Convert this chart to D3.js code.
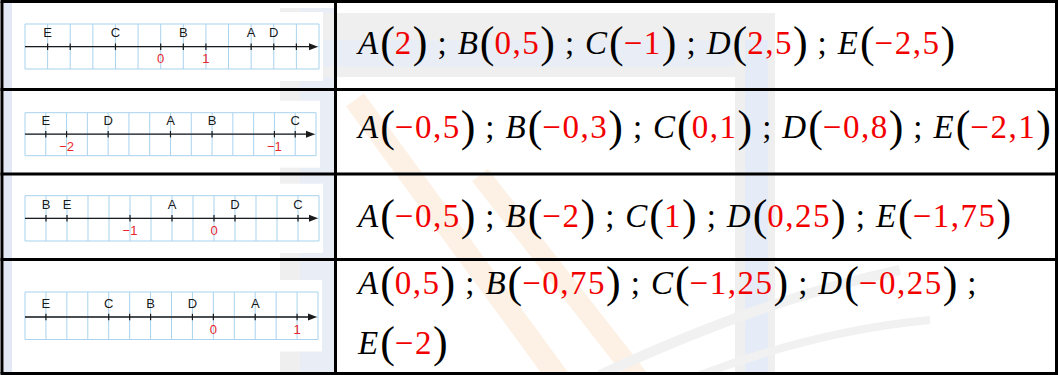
<!DOCTYPE html>
<html>
<head>
<meta charset="utf-8">
<script src="https://cdn.jsdelivr.net/npm/d3@7"></script>
<style>
  body { margin: 0; background: #fff; }
  svg { display: block; }
</style>
</head>
<body>
<script>
// size of the picture
var svgWidth = 1059;
var svgHeight = 375;

// names of the points, in the order of the answers
var pointNames = ["A", "B", "C", "D", "E"];

// where each point sits on the drawn number line (one list per row)
var drawnPoints = [
    [2, 0.5, -1, 2.5, -2.5],
    [-1.5, -1.3, -0.9, -1.8, -2.1],
    [-0.5, -2, 1, 0.25, -1.75],
    [0.5, -0.75, -1.25, -0.25, -2]
];

// red numbers written under each line
var markedNumbers = [[0, 1], [-2, -1], [-1, 0], [0, 1]];

// other graduations with no label
var extraTicks = [[-2, 3], [], [], [-1]];

// value at the left and right edge of each grid card
var lineDomains = [[-3, 3.5], [-2.2, -0.8], [-2.25, 1.25], [-2.25, 1.25]];
var gridCells = [13, 14, 14, 14];

// answers written in the right column
var answers = [
    ["2", "0,5", "\u22121", "2,5", "\u22122,5"],
    ["\u22120,5", "\u22120,3", "0,1", "\u22120,8", "\u22122,1"],
    ["\u22120,5", "\u22122", "1", "0,25", "\u22121,75"],
    ["0,5", "\u22120,75", "\u22121,25", "\u22120,25", "\u22122"]
];

// layout of the table
var rowLines = [1.5, 89.5, 174, 259.5, 373.5];
var colLines = [2, 335.5, 1056.5];

// cards: left, right, top, bottom, axis height
var cards = [
    { x0: 25, x1: 319, y0: 24, y1: 69, axis: 46.7 },
    { x0: 25, x1: 316, y0: 112.7, y1: 155.7, axis: 134.2 },
    { x0: 25, x1: 319, y0: 195.7, y1: 241, axis: 218.3 },
    { x0: 25, x1: 318, y0: 292, y1: 339.5, axis: 317 }
];

// text baselines in the right column, row 4 wraps before E
var textLines = [
    { row: 0, from: 0, to: 5, y: 54 },
    { row: 1, from: 0, to: 5, y: 138 },
    { row: 2, from: 0, to: 5, y: 227 },
    { row: 3, from: 0, to: 4, y: 294 },
    { row: 3, from: 4, to: 5, y: 354 }
];

var gridColor = "#a9d3ee";
var red = "#f20000";
var serifFont = "Liberation Serif";
var sansFont = "Liberation Sans";

var svg = d3.select("body")
    .append("svg")
    .attr("width", svgWidth)
    .attr("height", svgHeight);

// faint watermark behind the table
var mark = svg.append("g");
function band(x, y, w, h, color) {
    mark.append("rect").attr("x", x).attr("y", y).attr("width", w).attr("height", h).attr("fill", color);
}
band(4, 0, 8, svgHeight, "#e3e9f4");
band(280, 8, 55, svgHeight, "#efefef");
band(300, 8, 35, svgHeight, "#e9edf5");
band(300, 13, 475, 64, "#efefef");
band(300, 40, 465, 27, "#e8edf6");
band(735, 13, 40, svgHeight, "#efefef");
band(745, 40, 23, svgHeight, "#e6ecf7");
mark.append("line").attr("x1", 355).attr("y1", 100).attr("x2", 560).attr("y2", 380)
    .attr("stroke", "#fdf0e4").attr("stroke-width", 22);
mark.append("line").attr("x1", 480).attr("y1", 175).attr("x2", 640).attr("y2", 380)
    .attr("stroke", "#fdf0e4").attr("stroke-width", 20);
mark.append("path").attr("d", "M 600 375 Q 760 300 900 270")
    .attr("fill", "none").attr("stroke", "#f1f1f1").attr("stroke-width", 10);
mark.append("path").attr("d", "M 700 375 Q 820 330 930 320")
    .attr("fill", "none").attr("stroke", "#f1f1f1").attr("stroke-width", 8);

// number lines in the left column
cards.forEach(function(card, i) {
    var g = svg.append("g");
    var x = d3.scaleLinear()
        .domain(lineDomains[i])
        .range([card.x0, card.x1]);
    var step = (lineDomains[i][1] - lineDomains[i][0]) / gridCells[i];
    var gridValues = d3.range(gridCells[i] + 1).map(function(k) {
        return lineDomains[i][0] + k * step;
    });

    g.append("rect")
        .attr("x", card.x0 - 10).attr("y", card.y0 - 12)
        .attr("width", card.x1 - card.x0 + 14).attr("height", card.y1 - card.y0 + 24)
        .attr("fill", "#fff");

    g.selectAll(".gv")
        .data(gridValues)
        .enter().append("line")
        .attr("x1", function(d) { return x(d); })
        .attr("x2", function(d) { return x(d); })
        .attr("y1", card.y0).attr("y2", card.y1)
        .attr("stroke", gridColor).attr("stroke-width", 1);

    [card.y0, card.axis, card.y1].forEach(function(y) {
        g.append("line")
            .attr("x1", card.x0).attr("x2", card.x1)
            .attr("y1", y).attr("y2", y)
            .attr("stroke", gridColor).attr("stroke-width", 1);
    });

    // axis with arrow
    g.append("line")
        .attr("x1", card.x0).attr("x2", card.x1 - 6)
        .attr("y1", card.axis).attr("y2", card.axis)
        .attr("stroke", "#1a1a1a").attr("stroke-width", 1.3);
    g.append("path")
        .attr("d", "M" + (card.x1 - 1) + "," + card.axis +
            " L" + (card.x1 - 10) + "," + (card.axis - 3.5) +
            " L" + (card.x1 - 10) + "," + (card.axis + 3.5) + " Z")
        .attr("fill", "#1a1a1a");

    var tickValues = drawnPoints[i].concat(markedNumbers[i], extraTicks[i]);
    g.selectAll(".tk")
        .data(tickValues)
        .enter().append("line")
        .attr("x1", function(d) { return x(d); })
        .attr("x2", function(d) { return x(d); })
        .attr("y1", card.axis - 3.2).attr("y2", card.axis + 3.2)
        .attr("stroke", "#1a1a1a").attr("stroke-width", 1.2);

    g.selectAll(".pl")
        .data(drawnPoints[i])
        .enter().append("text")
        .attr("x", function(d) { return x(d); })
        .attr("y", card.axis - 9.5)
        .attr("text-anchor", "middle")
        .attr("font-family", sansFont)
        .attr("font-size", 13)
        .attr("fill", "#1a1a1a")
        .text(function(d, k) { return pointNames[k]; });

    g.selectAll(".nl")
        .data(markedNumbers[i])
        .enter().append("text")
        .attr("x", function(d) { return x(d); })
        .attr("y", card.axis + 16.5)
        .attr("text-anchor", "middle")
        .attr("font-family", sansFont)
        .attr("font-size", 13)
        .attr("fill", "#e8252d")
        .text(function(d) { return d < 0 ? "\u2212" + (-d) : String(d); });
});

// answers in the right column
function put(g, x, y, str, size, style, color, spacing) {
    var t = g.append("text")
        .attr("x", x).attr("y", y)
        .attr("font-family", serifFont)
        .attr("font-size", size)
        .attr("font-style", style)
        .attr("letter-spacing", spacing || 0)
        .attr("fill", color)
        .text(str);
    return t.node().getComputedTextLength();
}

textLines.forEach(function(line) {
    var g = svg.append("g");
    var cx = 358;
    var y = line.y;
    for (var k = line.from; k < line.to; k++) {
        cx += put(g, cx, y, pointNames[k], 33, "italic", "#000") + 2;
        cx += put(g, cx, y + 3, "(", 44, "normal", "#000");
        cx += put(g, cx, y, answers[line.row][k], 33, "normal", red, 1.5);
        cx += put(g, cx, y + 3, ")", 44, "normal", "#000");
        if (k < 4) {
            cx += 10;
            cx += put(g, cx, y, ";", 33, "normal", "#000");
            cx += 11;
        }
    }
});

// table borders
var border = svg.append("g");
rowLines.forEach(function(y) {
    border.append("line")
        .attr("x1", colLines[0] - 1.5).attr("x2", colLines[2] + 1.5)
        .attr("y1", y).attr("y2", y)
        .attr("stroke", "#000").attr("stroke-width", 3);
});
colLines.forEach(function(x) {
    border.append("line")
        .attr("x1", x).attr("x2", x)
        .attr("y1", rowLines[0]).attr("y2", rowLines[rowLines.length - 1])
        .attr("stroke", "#000").attr("stroke-width", 3);
});
</script>
</body>
</html>
